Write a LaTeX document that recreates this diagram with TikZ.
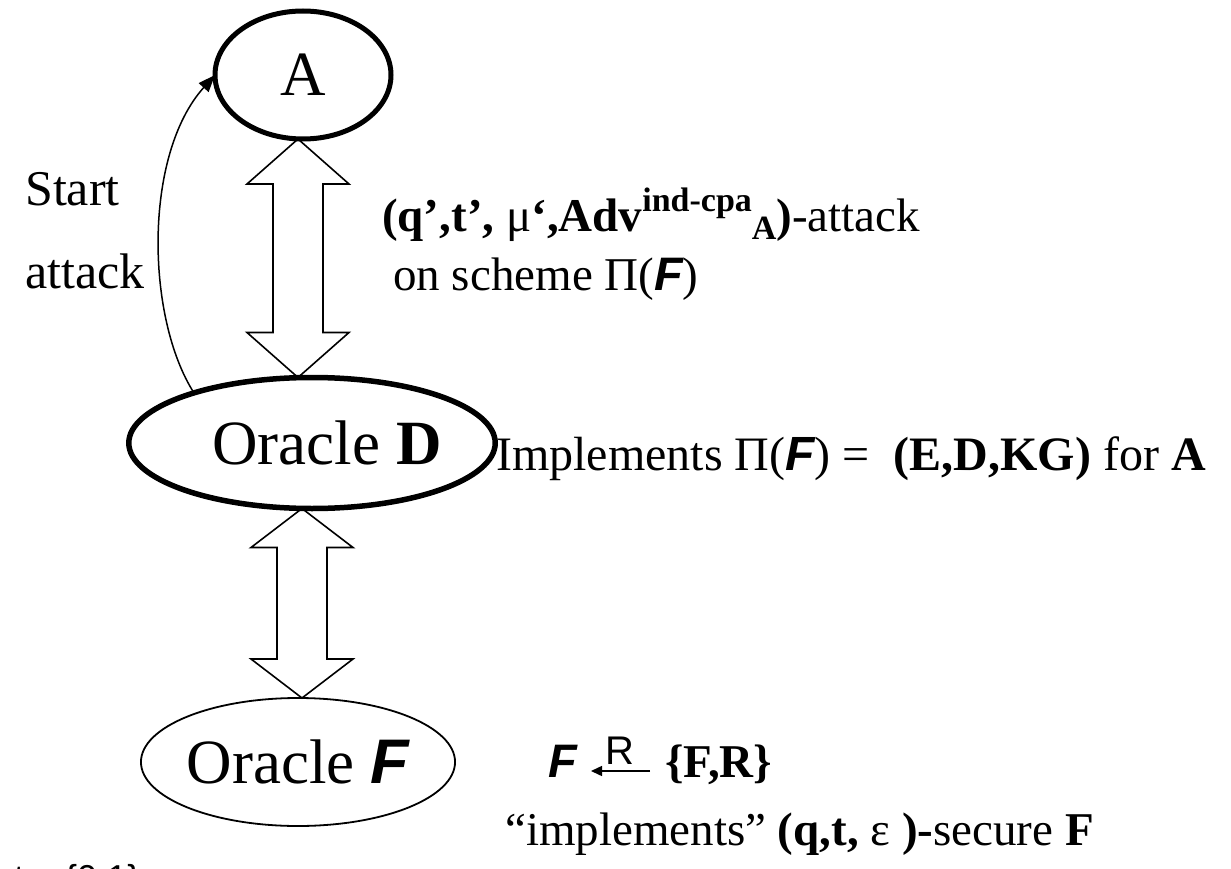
\documentclass[tikz,border=0pt]{standalone}
\usepackage{fontspec}
\setmainfont{Liberation Serif}
\newfontfamily\ari{Liberation Sans}
\usetikzlibrary{shapes.geometric,arrows.meta,calc}
\newcommand\Fb{{\ari\bfseries\itshape F}}
\tikzset{
  oval/.style={ellipse, draw, inner sep=0pt, outer sep=0pt, font=\fontsize{63}{63}\selectfont},
  fatarrow/.style={draw, line width=1.6pt, line join=miter},
  lbl/.style={anchor=base west, inner sep=0pt, font=\fontsize{47}{52}\selectfont},
  thinarrow/.style={line width=1.5pt, -{Triangle[length=17pt,width=13pt]}},
  sans/.style={anchor=base west, inner sep=0pt, font=\ari\fontsize{36}{36}\selectfont},
}
\newcommand\fatdbl[3]{%
  \draw[fatarrow] (#1) -- ++(-51,#3) -- ++(26,0) -- ($(#2)+(-25,-#3)$) -- ++(-26,0) -- (#2)
    -- ++(51,-#3) -- ++(-26,0) -- ($(#1)+(25,#3)$) -- ++(26,0) -- cycle;}
\begin{document}
\begin{tikzpicture}[x=1pt,y=-1pt]
\useasboundingbox[fill=white] (0,0) rectangle (1231,869);

\node[oval, line width=5pt, minimum width=176pt, minimum height=128pt] (A) at (303,75) {A};
\node[oval, line width=5.5pt, minimum width=290pt, minimum height=131pt] (D) at (312,443) {\hspace*{30pt}Oracle \textbf{D}};
\node[oval, line width=1.8pt, minimum width=274pt, minimum height=128pt] (F) at (298,762) {Oracle \Fb};

\path (A.south) ++(-5,0) coordinate (ua);
\coordinate (ub) at (ua |- D.north);
\fatdbl{ua}{ub}{45}
\path (D.south) ++(-10,0) coordinate (la);
\coordinate (lb) at (la |- F.north);
\fatdbl{la}{lb}{39}

\draw[thinarrow] (D.157) .. controls +(-48,-75) and +(-72,80) .. (A.west);

\node[lbl, font=\fontsize{50}{52}\selectfont] (start) at (25,205) {Start};
\node[lbl, font=\fontsize{50}{52}\selectfont] (attack) at (25,288) {attack};

\node[lbl] (l1) at (382,231) {\textbf{(q’,t’, }μ\textbf{‘,Adv}\raisebox{20pt}{\fontsize{34}{34}\selectfont\bfseries ind-cpa}\raisebox{-8pt}{\fontsize{34}{34}\selectfont\bfseries A}\textbf{)}-attack};
\node[lbl] (l2) at (393,290) {on scheme Π(\Fb)};

\node[lbl, font=\fontsize{48}{52}\selectfont] (impl) at (496,470) {Implements Π(\Fb) = \ \textbf{(E,D,KG)} for \textbf{A}};

\node[lbl] (Fx) at (548,777) {\Fb};
\node[anchor=base, inner sep=0pt, font=\ari\fontsize{40}{40}\selectfont] (Rl) at (620,764) {R};
\coordinate (sa) at (650,771);
\coordinate (sb) at (591,771);
\draw[line width=1.5pt, -{Triangle[length=11pt,width=10pt]}] (sa) -- (sb);
\node[lbl] (FR) at (665,777) {\textbf{\{F,R\}}};

\node[lbl] (impl2) at (505,845) {“implements” \textbf{(q,t,} ε \textbf{)-}secure \textbf{F}};

\node[sans] (tt) at (14,890) {t};
\node[sans] (zo) at (65,890) {\{0,1\}};
\coordinate (ta) at (60,880);
\coordinate (tb) at (32,880);
\draw[line width=1.5pt, -{Triangle[length=9pt,width=8pt]}] (ta) -- (tb);
\end{tikzpicture}
\end{document}
